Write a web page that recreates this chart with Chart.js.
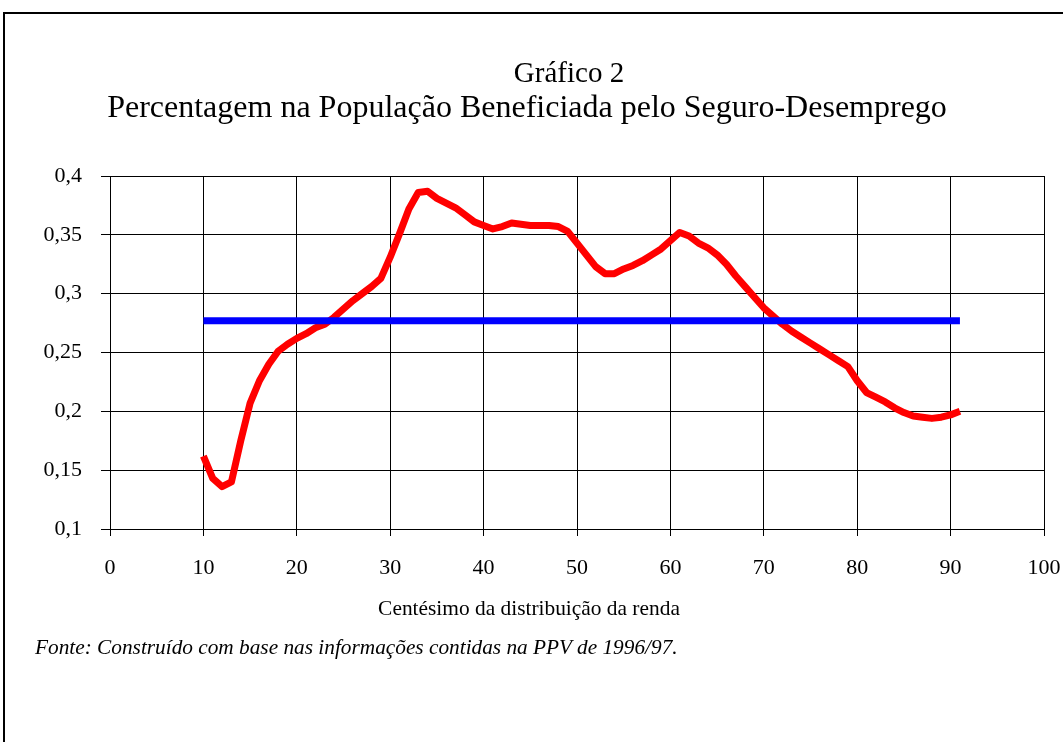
<!DOCTYPE html>
<html lang="pt">
<head>
  <meta charset="UTF-8">
  <title>Gráfico 2</title>
  <script src="https://cdn.jsdelivr.net/npm/chart.js"></script>
  <style>
    body {
      margin: 0;
      background: #ffffff;
      font-family: "Liberation Serif", "Times New Roman", serif;
      color: #000;
    }
    #page {
      position: relative;
      width: 1063px;
      height: 742px;
      overflow: hidden;
    }
    #frame {
      position: absolute;
      left: 3px;
      top: 12px;
      width: 1200px;
      height: 900px;
      border-left: 2px solid #000;
      border-top: 2px solid #000;
    }
    .txt {
      position: absolute;
      white-space: nowrap;
      transform: translate(-50%, -50%);
    }
    #fonte {
      position: absolute;
      left: 35px;
      top: 647px;
      transform: translateY(-50%);
      font-style: italic;
      font-size: 21.3px;
      white-space: nowrap;
    }
    canvas {
      position: absolute;
      left: 0;
      top: 0;
    }
  </style>
</head>
<body>
<div id="page">
  <div id="frame"></div>
  <canvas id="chart" width="1063" height="742"></canvas>
  <div class="txt" style="left:569px; top:72px; font-size:29px;">Gráfico 2</div>
  <div class="txt" style="left:527px; top:106px; font-size:32px;">Percentagem na População Beneficiada pelo Seguro-Desemprego</div>
  <div class="txt" style="left:529px; top:608px; font-size:21.4px;">Centésimo da distribuição da renda</div>
  <div id="fonte">Fonte: Construído com base nas informações contidas na PPV de 1996/97.</div>
</div>

<script>
  // centésimos 10..91
  const centiles = [
    10, 11, 12, 13, 14, 15, 16, 17, 18, 19,
    20, 21, 22, 23, 24, 25, 26, 27, 28, 29,
    30, 31, 32, 33, 34, 35, 36, 37, 38, 39,
    40, 41, 42, 43, 44, 45, 46, 47, 48, 49,
    50, 51, 52, 53, 54, 55, 56, 57, 58, 59,
    60, 61, 62, 63, 64, 65, 66, 67, 68, 69,
    70, 71, 72, 73, 74, 75, 76, 77, 78, 79,
    80, 81, 82, 83, 84, 85, 86, 87, 88, 89,
    90, 91
  ];
  const beneficiados = [
    0.162, 0.143, 0.136, 0.140, 0.175, 0.207, 0.226, 0.240, 0.251, 0.257,
    0.262, 0.266, 0.271, 0.274, 0.280, 0.287, 0.294, 0.300, 0.306, 0.313,
    0.331, 0.351, 0.372, 0.386, 0.387, 0.381, 0.377, 0.373, 0.367, 0.361,
    0.358, 0.355, 0.357, 0.360, 0.359, 0.358, 0.358, 0.358, 0.357, 0.353,
    0.343, 0.333, 0.323, 0.317, 0.317, 0.321, 0.324, 0.328, 0.333, 0.338,
    0.345, 0.352, 0.349, 0.343, 0.339, 0.333, 0.325, 0.315, 0.306, 0.297,
    0.288, 0.281, 0.274, 0.268, 0.263, 0.258, 0.253, 0.248, 0.243, 0.238,
    0.226, 0.216, 0.212, 0.208, 0.203, 0.199, 0.196, 0.195, 0.194, 0.195,
    0.197, 0.200
  ];
  // média da população
  const mediaX = [10, 91];
  const mediaY = [0.277, 0.277];

  const xTicks = [0, 10, 20, 30, 40, 50, 60, 70, 80, 90, 100];
  const yTicks = [0.1, 0.15, 0.2, 0.25, 0.3, 0.35, 0.4];

  const fontFamily = '"Liberation Serif", "Times New Roman", serif';

  new Chart(document.getElementById("chart").getContext("2d"), {
    type: 'scatter',
    data: {
      datasets: [
        {
          data: mediaX.map((x, i) => ({ x: x, y: mediaY[i] })),
          showLine: true,
          borderColor: '#0000ff',
          borderWidth: 7,
          borderCapStyle: 'butt',
          pointRadius: 0,
          order: 0
        },
        {
          data: centiles.map((x, i) => ({ x: x, y: beneficiados[i] })),
          showLine: true,
          borderColor: '#ff0000',
          borderWidth: 7,
          borderJoinStyle: 'round',
          pointRadius: 0,
          tension: 0,
          order: 1
        }
      ]
    },
    options: {
      responsive: false,
      animation: false,
      layout: {
        padding: { left: 0, right: 19, top: 176, bottom: 153 }
      },
      plugins: {
        legend: { display: false },
        tooltip: { enabled: false }
      },
      scales: {
        x: {
          type: 'linear',
          min: 0,
          max: 100,
          afterBuildTicks: scale => { scale.ticks = xTicks.map(v => ({ value: v })); },
          afterFit: scale => {
            scale.height = 60;
            scale.paddingLeft = 0;
            scale.paddingRight = 0;
          },
          border: { color: '#000', width: 1 },
          grid: { color: '#000', lineWidth: 1, tickLength: 7, tickColor: '#000' },
          ticks: {
            color: '#000',
            padding: 19,
            maxRotation: 0,
            font: { family: fontFamily, size: 22 }
          }
        },
        y: {
          type: 'linear',
          min: 0.1,
          max: 0.4,
          afterBuildTicks: scale => { scale.ticks = yTicks.map(v => ({ value: v })); },
          afterFit: scale => {
            scale.width = 110;
            scale.paddingTop = 0;
            scale.paddingBottom = 0;
          },
          border: { color: '#000', width: 1 },
          grid: { color: '#000', lineWidth: 1, tickLength: 9, tickColor: '#000' },
          ticks: {
            color: '#000',
            padding: 19,
            font: { family: fontFamily, size: 22 },
            callback: v => String(+v.toFixed(2)).replace('.', ',')
          }
        }
      }
    }
  });
</script>
</body>
</html>
